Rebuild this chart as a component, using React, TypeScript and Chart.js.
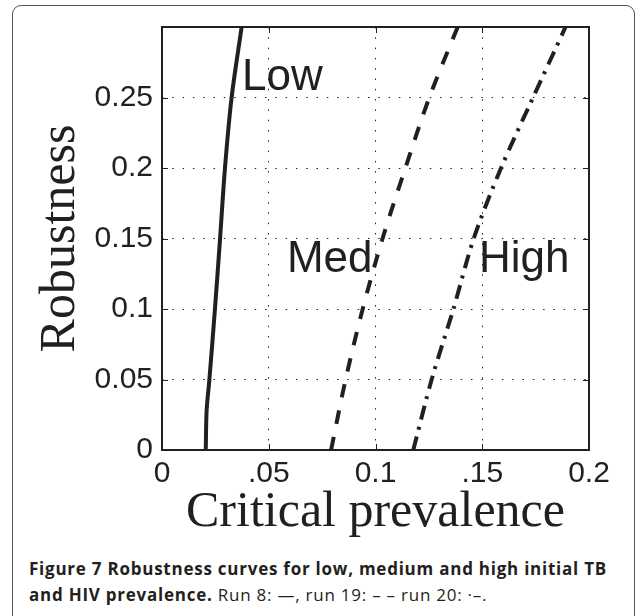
import React, { useEffect, useLayoutEffect, useRef, useState } from 'react';
import { Chart, registerables } from 'chart.js';

Chart.register(...registerables);

// ---- data ----
const lowRobustness = [0, 0.028, 0.05, 0.1, 0.15, 0.2, 0.25, 0.3];
const lowPrevalence = [0.0205, 0.0209, 0.0222, 0.0248, 0.0272, 0.0295, 0.0326, 0.0373];

const medRobustness = [0, 0.05, 0.1, 0.15, 0.2, 0.25, 0.3];
const medPrevalence = [0.0792, 0.086, 0.094, 0.1033, 0.114, 0.1252, 0.1385];

const highRobustness = [0, 0.05, 0.1, 0.15, 0.2, 0.25, 0.3];
const highPrevalence = [0.1177, 0.1263, 0.1365, 0.146, 0.1588, 0.1738, 0.189];

const xTickLabels = ['0', '.05', '0.1', '.15', '0.2'];
const yTickLabels = ['0', '0.05', '0.1', '0.15', '0.2', '0.25', ''];

const curveLabels = ['Low', 'Med', 'High'];
const curveLabelPrevalence = [0.0375, 0.0585, 0.1485];
const curveLabelRobustness = [0.255, 0.126, 0.126];

const captionLine1 = 'Figure 7 Robustness curves for low, medium and high initial TB';
const captionLine2Bold = 'and HIV prevalence.';
const captionLine2Rest = ' Run 8: \u2014, run 19: \u2013 \u2013 run 20: \u00b7\u2013.';

const INK = '#231f20';

const framePlugin = {
  id: 'frameAndTicks',
  afterDraw(chart: any) {
    const { ctx, chartArea } = chart;
    const { left, right, top, bottom } = chartArea;
    ctx.save();
    ctx.strokeStyle = INK;
    ctx.lineWidth = 1;
    const xs = chart.scales.x;
    const ys = chart.scales.y;
    ctx.beginPath();
    xs.ticks.forEach((t: any) => {
      const p = Math.round(xs.getPixelForValue(t.value)) + 0.5;
      ctx.moveTo(p, bottom);
      ctx.lineTo(p, bottom - 6);
      ctx.moveTo(p, top);
      ctx.lineTo(p, top + 6);
    });
    ys.ticks.forEach((t: any) => {
      const p = Math.round(ys.getPixelForValue(t.value)) + 0.5;
      ctx.moveTo(left, p);
      ctx.lineTo(left + 6, p);
      ctx.moveTo(right, p);
      ctx.lineTo(right - 6, p);
    });
    ctx.stroke();
    ctx.lineWidth = 2;
    ctx.strokeRect(left, top, right - left, bottom - top);
    ctx.restore();
  },
};

const labelPlugin = {
  id: 'curveLabels',
  afterDatasetsDraw(chart: any) {
    const { ctx } = chart;
    const xs = chart.scales.x;
    const ys = chart.scales.y;
    ctx.save();
    ctx.fillStyle = INK;
    ctx.font = '44px "Liberation Sans", Arial, sans-serif';
    ctx.textAlign = 'left';
    ctx.textBaseline = 'alphabetic';
    curveLabels.forEach((txt, i) => {
      ctx.fillText(
        txt,
        xs.getPixelForValue(curveLabelPrevalence[i]),
        ys.getPixelForValue(curveLabelRobustness[i])
      );
    });
    ctx.restore();
  },
};

function toPoints(xv: number[], yv: number[]) {
  return xv.map((x, i) => ({ x, y: yv[i] }));
}

export default function App() {
  const canvasRef = useRef<HTMLCanvasElement | null>(null);
  const line1Ref = useRef<HTMLSpanElement | null>(null);
  const [spacing, setSpacing] = useState(0);

  useLayoutEffect(() => {
    const el = line1Ref.current;
    if (!el) return;
    const w = el.getBoundingClientRect().width;
    const target = 578;
    setSpacing((target - w) / captionLine1.length);
  }, []);

  useEffect(() => {
    const canvas = canvasRef.current;
    if (!canvas) return;
    const lineBase = {
      borderColor: INK,
      borderWidth: 4,
      pointRadius: 0,
      borderCapStyle: 'butt',
      fill: false,
      tension: 0.3,
    };
    const chart = new Chart(canvas, {
      type: 'line',
      data: {
        datasets: [
          { ...lineBase, label: 'Low', data: toPoints(lowPrevalence, lowRobustness) },
          { ...lineBase, label: 'Med', data: toPoints(medPrevalence, medRobustness), borderDash: [13.5, 13.3] },
          { ...lineBase, label: 'High', data: toPoints(highPrevalence, highRobustness), borderDash: [14, 7, 3, 7.5] },
        ],
      } as any,
      options: {
        responsive: false,
        animation: false,
        devicePixelRatio: 1,
        layout: { padding: { left: 0, top: 23, right: 46, bottom: 0 } },
        plugins: { legend: { display: false }, tooltip: { enabled: false } },
        scales: {
          x: {
            type: 'linear',
            min: 0,
            max: 0.2,
            afterFit: (s: any) => { s.height = 100; },
            ticks: {
              stepSize: 0.05,
              autoSkip: false,
              maxRotation: 0,
              padding: 6,
              color: INK,
              font: { family: '"Liberation Sans", Arial, sans-serif', size: 30 },
              callback: (_v: any, i: number) => xTickLabels[i],
            },
            grid: { color: INK, lineWidth: 1, drawTicks: false },
            border: { display: false, dash: [1.5, 8.8] },
            title: {
              display: true,
              text: 'Critical prevalence',
              color: INK,
              font: { family: '"Liberation Serif", "Times New Roman", serif', size: 50 },
              padding: { top: 0, bottom: 7 },
            },
          },
          y: {
            type: 'linear',
            min: 0,
            max: 0.3,
            afterFit: (s: any) => { s.width = 162; },
            ticks: {
              stepSize: 0.05,
              autoSkip: false,
              padding: 9,
              color: INK,
              font: { family: '"Liberation Sans", Arial, sans-serif', size: 30 },
              callback: (_v: any, i: number) => yTickLabels[i],
            },
            grid: { color: INK, lineWidth: 1, drawTicks: false },
            border: { display: false, dash: [1.5, 8.8] },
            title: {
              display: true,
              text: 'Robustness',
              color: INK,
              font: { family: '"Liberation Serif", "Times New Roman", serif', size: 50 },
              padding: { top: 31, bottom: 0 },
            },
          },
        },
      } as any,
      plugins: [labelPlugin, framePlugin],
    });
    return () => chart.destroy();
  }, []);

  const captionFont: React.CSSProperties = {
    fontFamily: '"Open Sans", "Noto Sans", sans-serif',
    fontSize: 17,
    lineHeight: '26px',
    color: INK,
    whiteSpace: 'nowrap',
    letterSpacing: spacing + 'px',
  };

  return (
    <div
      style={{
        position: 'fixed',
        left: 0,
        top: 0,
        width: 635,
        height: 616,
        overflow: 'hidden',
        background: '#fff',
      }}
    >
      <div
        style={{
          position: 'absolute',
          left: 12,
          top: 5,
          width: 621,
          height: 700,
          border: '1px solid #555',
          borderRadius: 9,
          boxSizing: 'content-box',
        }}
      />
      <canvas
        ref={canvasRef}
        width={635}
        height={550}
        style={{ position: 'absolute', left: 0, top: 0, width: 635, height: 550 }}
      />
      <div style={{ position: 'absolute', left: 29, top: 556, ...captionFont }}>
        <div>
          <span ref={line1Ref} style={{ fontWeight: 700 }}>{captionLine1}</span>
        </div>
        <div>
          <span style={{ fontWeight: 700 }}>{captionLine2Bold}</span>
          <span style={{ fontWeight: 400 }}>{captionLine2Rest}</span>
        </div>
      </div>
    </div>
  );
}
